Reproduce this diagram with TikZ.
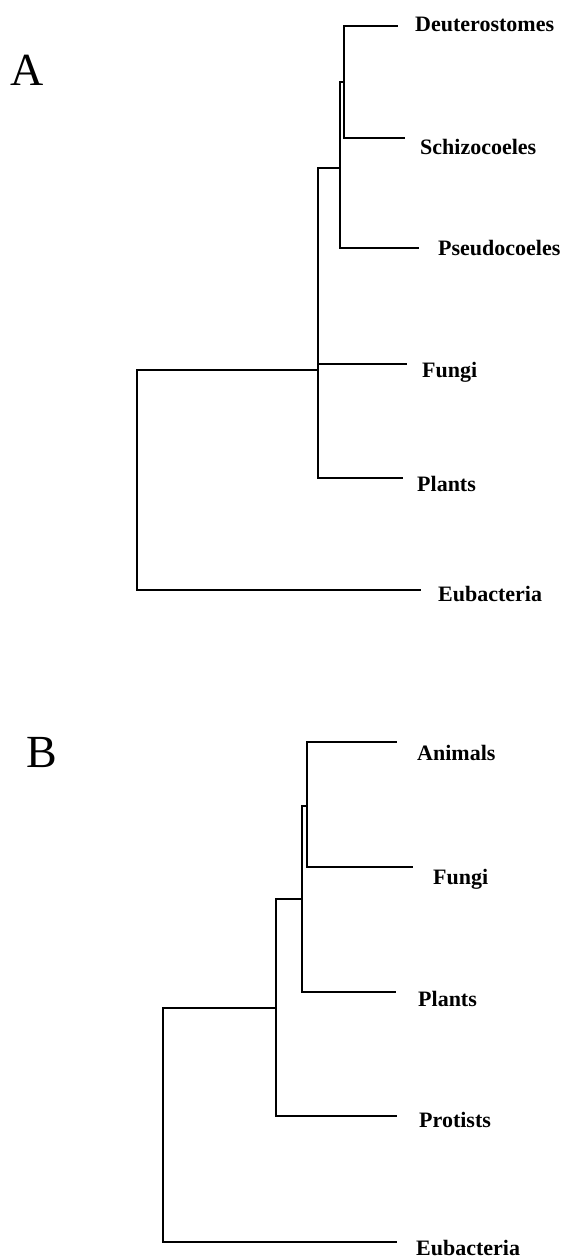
\documentclass[tikz,border=0pt]{standalone}
\usepackage{fontspec}
\setmainfont{Liberation Serif}
\usepackage{tikz}
\usepackage{xcolor}

\tikzset{
    taxon/.style={anchor=base west, inner sep=0pt, font=\fontsize{22}{26}\selectfont\bfseries},
    panel/.style={anchor=base, inner sep=0pt, font=\fontsize{46}{50}\selectfont},
    branch/.style={line width=1.1pt, line cap=rect}
}

\begin{document}
\begin{tikzpicture}[x=1pt, y=-1pt]
\useasboundingbox (0,0) rectangle (572,1259);

% panel A
\node[panel] (panelA) at (27,85) {A};

\coordinate (tDeut) at (397,26);
\coordinate (tSchiz) at (404,138);
\coordinate (tPseudo) at (418,248);
\coordinate (tFungiA) at (406,364);
\coordinate (tPlantsA) at (402,478);
\coordinate (tEubA) at (420,590);

\coordinate (nDS) at (344,82);
\coordinate (nDSP) at (340,168);
\coordinate (nEuk) at (318,370);
\coordinate (rootA) at (137,480);

\node[taxon] (Deut) at (415,31) {Deuterostomes};
\node[taxon] (Schiz) at (420,154) {Schizocoeles};
\node[taxon] (Pseudo) at (438,255) {Pseudocoeles};
\node[taxon] (FungiA) at (422,377) {Fungi};
\node[taxon] (PlantsA) at (417,491) {Plants};
\node[taxon] (EubA) at (438,601) {Eubacteria};

\draw[branch] (nDS) |- (tDeut);
\draw[branch] (nDS) |- (tSchiz);
\draw[branch] (nDSP) |- (nDS);
\draw[branch] (nDSP) |- (tPseudo);
\draw[branch] (nEuk) |- (nDSP);
\draw[branch] (nEuk) |- (tFungiA);
\draw[branch] (nEuk) |- (tPlantsA);
\draw[branch] (rootA) |- (nEuk);
\draw[branch] (rootA) |- (tEubA);

% panel B
\node[panel] (panelB) at (42,767) {B};

\coordinate (tAnim) at (396,742);
\coordinate (tFungiB) at (412,867);
\coordinate (tPlantsB) at (395,992);
\coordinate (tProt) at (396,1116);
\coordinate (tEubB) at (396,1242);

\coordinate (nAF) at (307,806);
\coordinate (nAFP) at (302,899);
\coordinate (nEukB) at (276,1008);
\coordinate (rootB) at (163,1125);

\node[taxon] (Anim) at (417,760) {Animals};
\node[taxon] (FungiB) at (433,884) {Fungi};
\node[taxon] (PlantsB) at (418,1006) {Plants};
\node[taxon] (Prot) at (419,1127) {Protists};
\node[taxon] (EubB) at (416,1255) {Eubacteria};

\draw[branch] (nAF) |- (tAnim);
\draw[branch] (nAF) |- (tFungiB);
\draw[branch] (nAFP) |- (nAF);
\draw[branch] (nAFP) |- (tPlantsB);
\draw[branch] (nEukB) |- (nAFP);
\draw[branch] (nEukB) |- (tProt);
\draw[branch] (rootB) |- (nEukB);
\draw[branch] (rootB) |- (tEubB);
\end{tikzpicture}
\end{document}
